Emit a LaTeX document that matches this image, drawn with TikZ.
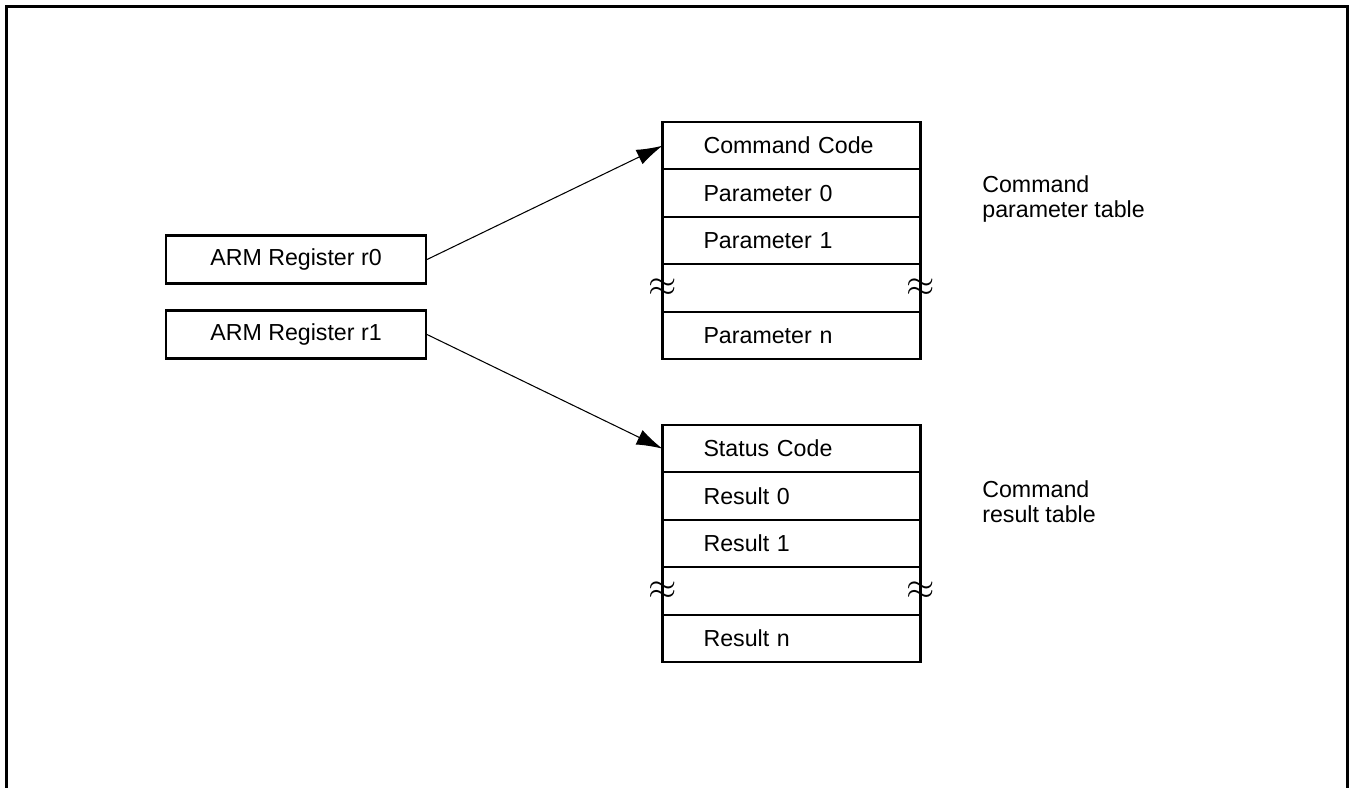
\documentclass[tikz,border=0pt]{standalone}
\usepackage{fontspec}
\setmainfont{Liberation Sans}
\usetikzlibrary{positioning}
\usetikzlibrary{arrows.meta}

\tikzset{
  regbox/.style={draw,line width=1.2pt,minimum width=5.2cm,minimum height=0.96cm,inner sep=0pt},
  cell/.style={draw,line width=1.2pt,minimum height=0.948cm,text width=3.52cm,inner xsep=0.82cm,inner ysep=0pt,outer sep=0pt,align=left},
  ptr/.style={line width=0.6pt,-{Latex[length=0.52cm,width=0.32cm]}},
  brk/.style={inner sep=0pt,font=\fontsize{21}{21}\selectfont},
  sidenote/.style={align=left,anchor=north west,inner sep=0pt}
}

\begin{document}
\begin{tikzpicture}[x=0.02cm,y=-0.02cm,font=\fontsize{13.2}{14.7}\selectfont]
\useasboundingbox (0,0) rectangle (1350,788);
% frame
\draw[line width=1.8pt] (6.5,788) -- (6.5,6.5) -- (1347.5,6.5) -- (1347.5,788);

% registers
\node[regbox] (r0) at (296,259.5) {ARM Register r0};
\node[regbox] (r1) at (296,334.5) {ARM Register r1};

% command parameter table
\node[cell] (cmd) at (791.5,145.7) {Command Code};
\node[cell,below=0pt of cmd] (p0) {Parameter 0};
\node[cell,below=0pt of p0] (p1) {Parameter 1};
\node[cell,below=0pt of p1] (pgap) {};
\node[cell,below=0pt of pgap] (pn) {Parameter n};
\node[brk] (pbl) at (pgap.west) {$\approx$};
\node[brk] (pbr) at (pgap.east) {$\approx$};
\node[sidenote] (ptab) at (982,175) {Command\\parameter table};

% command result table
\node[cell] (sts) at (791.5,448.7) {Status Code};
\node[cell,below=0pt of sts] (res0) {Result 0};
\node[cell,below=0pt of res0] (res1) {Result 1};
\node[cell,below=0pt of res1] (rgap) {};
\node[cell,below=0pt of rgap] (resn) {Result n};
\node[brk] (rbl) at (rgap.west) {$\approx$};
\node[brk] (rbr) at (rgap.east) {$\approx$};
\node[sidenote] (rtab) at (982,480) {Command\\result table};

% pointers
\draw[ptr] (r0.east) -- (cmd.west);
\draw[ptr] (r1.east) -- (sts.west);
\end{tikzpicture}
\end{document}
